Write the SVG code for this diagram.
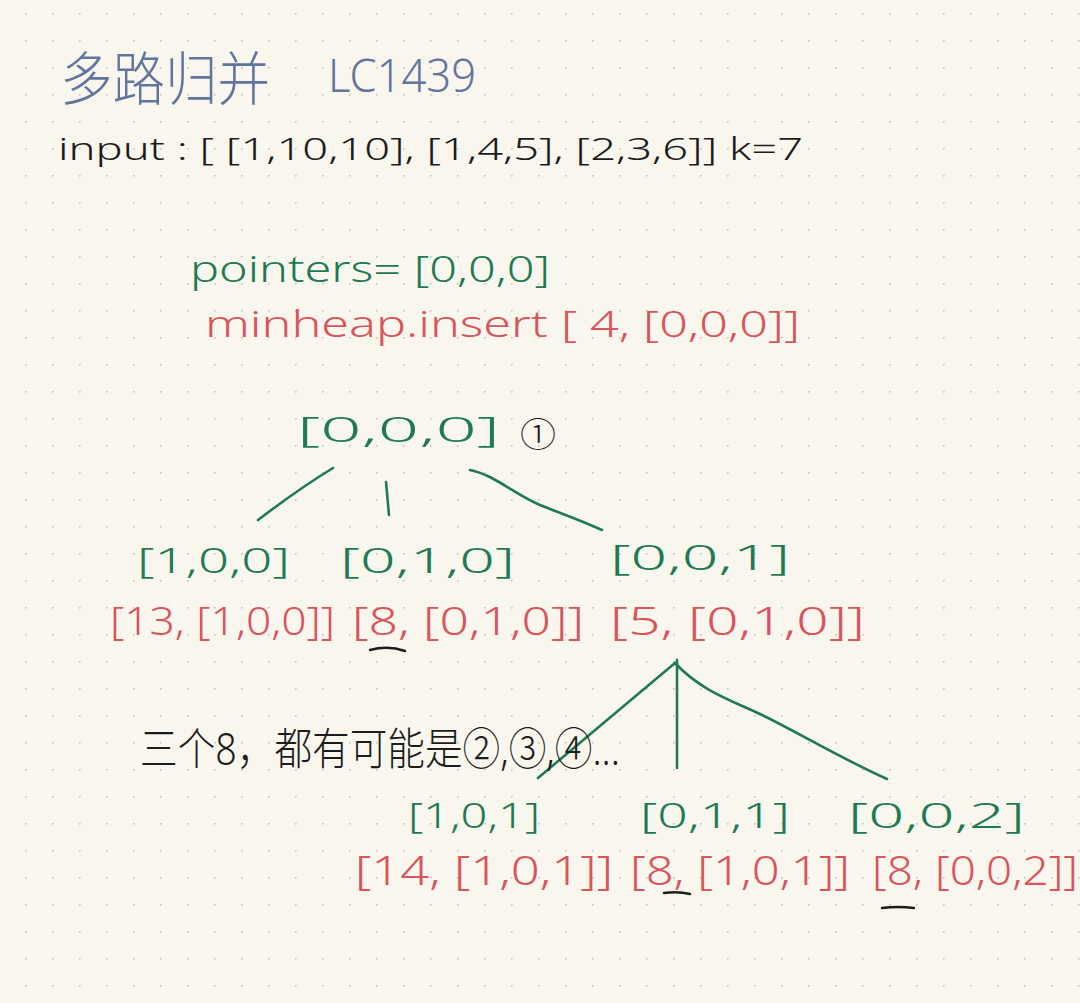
<svg xmlns="http://www.w3.org/2000/svg" width="1080" height="1003" viewBox="0 0 1080 1003">
<defs>
<pattern id="dots" x="25" y="13" width="27" height="27" patternUnits="userSpaceOnUse">
<circle cx="0.5" cy="0.5" r="1.3" fill="#cbc8bd"/>
</pattern>
<style>
text{font-family:"Noto Sans","Noto Sans CJK SC",sans-serif;font-weight:300;}
.t{fill:#62759e;}
.k{fill:#1c1c1c;}
.g{fill:#1e7a52;}
.r{fill:#d9545c;}
.ln{fill:none;stroke:#1f7a52;stroke-width:2.6;stroke-linecap:round;stroke-linejoin:round;}
.ul{fill:none;stroke:#1c1c1c;stroke-width:2.4;stroke-linecap:round;}
</style>
</defs>
<rect width="1080" height="1003" fill="#f8f6ed"/>
<rect width="1080" height="1003" fill="url(#dots)"/>

<g id="title">
<text class="t" x="60" y="100" font-size="58" textLength="210" lengthAdjust="spacingAndGlyphs">多路归并</text>
<text class="t" x="328" y="92" font-size="46" textLength="148" lengthAdjust="spacingAndGlyphs">LC1439</text>
</g>
<g id="input">
<text class="k" x="58" y="160" font-size="32" textLength="745" lengthAdjust="spacingAndGlyphs">input : [ [1,10,10], [1,4,5], [2,3,6]] k=7</text>
</g>
<g id="pointers">
<text class="g" x="190" y="282" font-size="36" textLength="360" lengthAdjust="spacingAndGlyphs">pointers= [0,0,0]</text>
</g>
<g id="insert">
<text class="r" x="205" y="337" font-size="36" textLength="595" lengthAdjust="spacingAndGlyphs">minheap.insert [ 4, [0,0,0]]</text>
</g>

<g id="connectors">
<path class="ln" d="M258,520 Q300,488 333,468"/>
<path class="ln" d="M386,482 L389,515"/>
<path class="ln" d="M470,470 C495,475 515,495 540,505 S580,520 602,530"/>
<path class="ln" d="M538,778 L675,663"/>
<path class="ln" d="M677,660 L677,768"/>
<path class="ln" d="M675,663 C700,690 730,700 760,714 S840,758 887,779"/>
</g>

<g id="root">
<text class="g" x="297" y="442" font-size="34" textLength="203" lengthAdjust="spacingAndGlyphs">[0,0,0]</text>
<text class="k" x="520" y="447" font-size="34" textLength="36" lengthAdjust="spacingAndGlyphs">①</text>
</g>

<g id="n100">
<text class="g" x="137" y="573" font-size="34" textLength="153" lengthAdjust="spacingAndGlyphs">[1,0,0]</text>
<text class="r" x="110" y="635" font-size="38" textLength="225" lengthAdjust="spacingAndGlyphs">[13, [1,0,0]]</text>
</g>
<g id="n010">
<text class="g" x="340" y="573" font-size="34" textLength="175" lengthAdjust="spacingAndGlyphs">[0,1,0]</text>
<text class="r" x="352" y="635" font-size="38" textLength="232" lengthAdjust="spacingAndGlyphs">[8, [0,1,0]]</text>
<path class="ul" d="M370,650 Q388,645 405,651"/>
</g>
<g id="n001">
<text class="g" x="610" y="570" font-size="34" textLength="180" lengthAdjust="spacingAndGlyphs">[0,0,1]</text>
<text class="r" x="610" y="635" font-size="38" textLength="255" lengthAdjust="spacingAndGlyphs">[5, [0,1,0]]</text>
</g>

<g id="note">
<text class="k" x="140" y="765" font-size="44" textLength="480" lengthAdjust="spacingAndGlyphs">三个8，都有可能是②,③,④...</text>
</g>

<g id="n101">
<text class="g" x="408" y="828" font-size="34" textLength="132" lengthAdjust="spacingAndGlyphs">[1,0,1]</text>
<text class="r" x="355" y="885" font-size="40" textLength="258" lengthAdjust="spacingAndGlyphs">[14, [1,0,1]]</text>
</g>
<g id="n011">
<text class="g" x="640" y="828" font-size="34" textLength="150" lengthAdjust="spacingAndGlyphs">[0,1,1]</text>
<text class="r" x="630" y="885" font-size="40" textLength="220" lengthAdjust="spacingAndGlyphs">[8, [1,0,1]]</text>
<path class="ul" d="M664,893 Q678,891 690,894"/>
</g>
<g id="n002">
<text class="g" x="848" y="828" font-size="34" textLength="177" lengthAdjust="spacingAndGlyphs">[0,0,2]</text>
<text class="r" x="872" y="885" font-size="40" textLength="206" lengthAdjust="spacingAndGlyphs">[8, [0,0,2]]</text>
<path class="ul" d="M882,908 Q898,906 914,908"/>
</g>
</svg>
